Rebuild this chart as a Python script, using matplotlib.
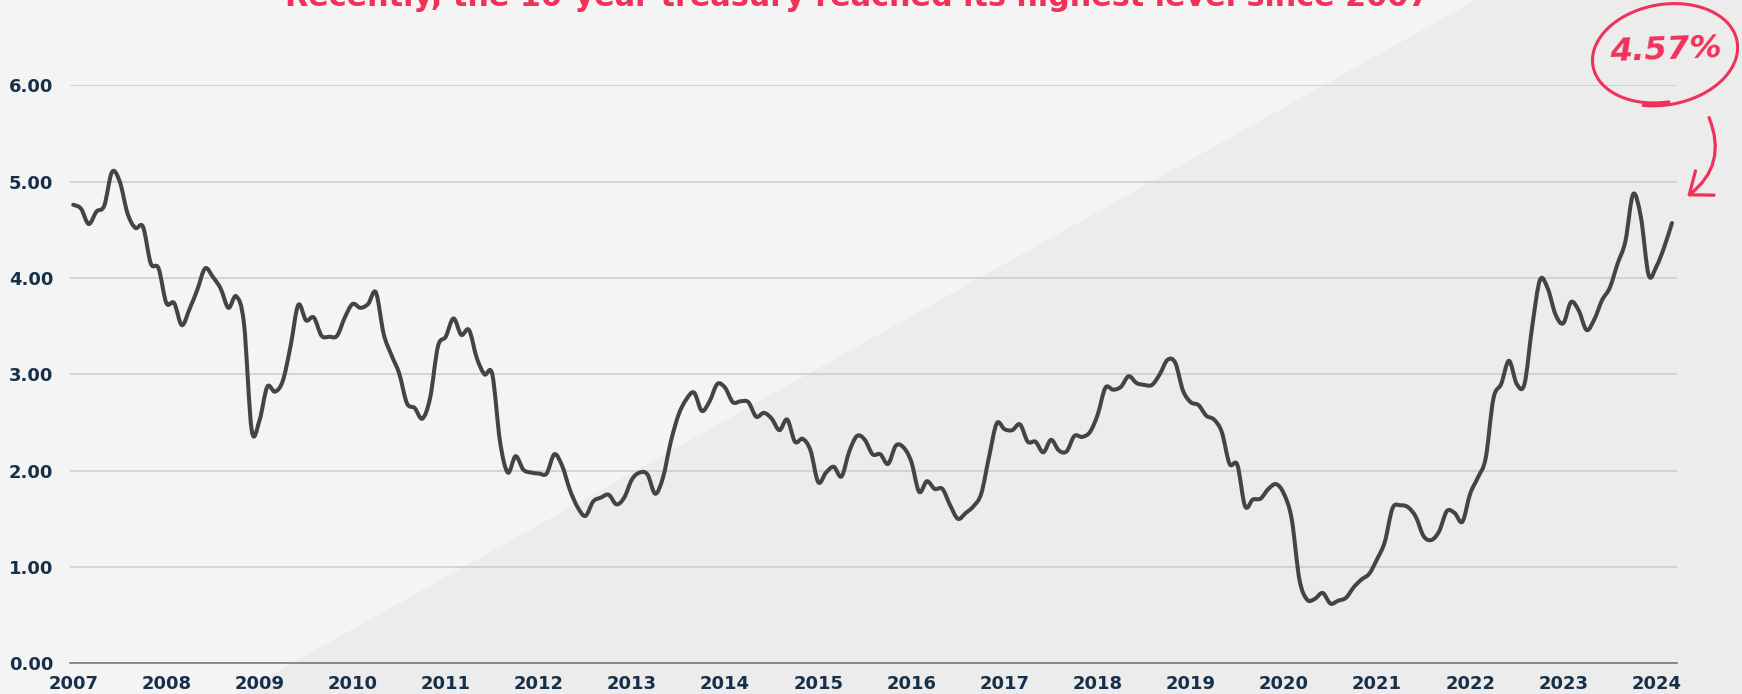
import numpy as np
import matplotlib
matplotlib.use("Agg")
import matplotlib.pyplot as plt
from matplotlib.path import Path
from matplotlib.patches import PathPatch, Polygon, FancyArrowPatch

# ---------------- data (monthly 10-year treasury yield, %) ----------------
y2007 = [4.76, 4.72, 4.56, 4.69, 4.75, 5.10, 5.00, 4.67, 4.52, 4.53, 4.15, 4.10]
y2008 = [3.74, 3.74, 3.51, 3.68, 3.88, 4.10, 4.01, 3.89, 3.69, 3.81, 3.53, 2.42]
y2009 = [2.52, 2.87, 2.82, 2.93, 3.29, 3.72, 3.56, 3.59, 3.40, 3.39, 3.40, 3.59]
y2010 = [3.73, 3.69, 3.73, 3.85, 3.42, 3.20, 3.01, 2.70, 2.65, 2.54, 2.76, 3.29]
y2011 = [3.39, 3.58, 3.41, 3.46, 3.17, 3.00, 3.00, 2.30, 1.98, 2.15, 2.01, 1.98]
y2012 = [1.97, 1.97, 2.17, 2.05, 1.80, 1.62, 1.53, 1.68, 1.72, 1.75, 1.65, 1.72]
y2013 = [1.91, 1.98, 1.96, 1.76, 1.93, 2.30, 2.58, 2.74, 2.81, 2.62, 2.72, 2.90]
y2014 = [2.86, 2.71, 2.72, 2.71, 2.56, 2.60, 2.54, 2.42, 2.53, 2.30, 2.33, 2.21]
y2015 = [1.88, 1.98, 2.04, 1.94, 2.20, 2.36, 2.32, 2.17, 2.17, 2.07, 2.26, 2.24]
y2016 = [2.09, 1.78, 1.89, 1.81, 1.81, 1.64, 1.50, 1.56, 1.63, 1.76, 2.14, 2.49]
y2017 = [2.43, 2.42, 2.48, 2.30, 2.30, 2.19, 2.32, 2.21, 2.20, 2.36, 2.35, 2.40]
y2018 = [2.58, 2.86, 2.84, 2.87, 2.98, 2.91, 2.89, 2.89, 3.00, 3.15, 3.12, 2.83]
y2019 = [2.71, 2.68, 2.57, 2.53, 2.40, 2.07, 2.06, 1.63, 1.70, 1.71, 1.81, 1.86]
y2020 = [1.76, 1.50, 0.87, 0.66, 0.67, 0.73, 0.62, 0.65, 0.68, 0.79, 0.87, 0.93]
y2021 = [1.08, 1.26, 1.61, 1.64, 1.62, 1.52, 1.32, 1.28, 1.37, 1.58, 1.56, 1.47]
y2022 = [1.76, 1.93, 2.13, 2.75, 2.90, 3.14, 2.90, 2.90, 3.50, 3.98, 3.89, 3.62]
y2023 = [3.53, 3.75, 3.66, 3.46, 3.57, 3.77, 3.90, 4.15, 4.38, 4.87, 4.63, 4.03]
y2024 = [4.12, 4.32, 4.57]

year_labels = [str(y) for y in range(2007, 2025)]
y_ticks = [0, 1, 2, 3, 4, 5, 6]
title = "Recently, the 10-year treasury reached its highest level since 2007"
callout = "4.57%"

yields = (y2007 + y2008 + y2009 + y2010 + y2011 + y2012 + y2013 + y2014 + y2015
          + y2016 + y2017 + y2018 + y2019 + y2020 + y2021 + y2022 + y2023 + y2024)
months = np.arange(len(yields), dtype=float)

# ---------------- figure ----------------
W, H = 1742, 694
fig = plt.figure(figsize=(W / 100, H / 100), dpi=100)
fig.patch.set_facecolor('#f4f4f4')

bg = fig.add_axes([0, 0, 1, 1])
bg.set_xlim(0, W); bg.set_ylim(H, 0); bg.axis('off'); bg.set_zorder(0)
bg.add_patch(Polygon([(237, H), (1476, 0), (W, 0), (W, H)], closed=True,
                     facecolor='#ececec', edgecolor='none'))

ax = fig.add_axes([70.1 / W, 30.7 / H, 1606.5 / W, 578 / H])
ax.set_zorder(1)
ax.set_facecolor('none')
ax.set_xlim(-0.4, 206.6)
ax.set_ylim(0, 6)
for s in ax.spines.values():
    s.set_visible(False)

ax.set_yticks(y_ticks)
ax.set_yticklabels([f"{v:.2f}" for v in y_ticks])
ax.set_xticks(np.arange(len(year_labels)) * 12)
ax.set_xticklabels(year_labels)
ax.yaxis.grid(True, color='#c7ccd1', lw=1.1)
ax.set_axisbelow(True)
ax.axhline(0, color='#5f7380', lw=1.1, zorder=1.5, clip_on=False)
ax.tick_params(axis='both', length=0, colors='#16304a', labelsize=13)
ax.tick_params(axis='y', pad=12.1)
ax.tick_params(axis='x', pad=8.5)
for lab in ax.get_xticklabels() + ax.get_yticklabels():
    lab.set_fontweight('bold')
    lab.set_family('DejaVu Sans')

# smooth line through the monthly values (Catmull-Rom as cubic Bezier)
x = months
y = np.array(yields)
xp = np.concatenate([[x[0]], x, [x[-1]]])
yp = np.concatenate([[y[0]], y, [y[-1]]])
verts = [(x[0], y[0])]
codes = [Path.MOVETO]
for i in range(len(x) - 1):
    p0 = np.array([xp[i], yp[i]]); p1 = np.array([xp[i + 1], yp[i + 1]])
    p2 = np.array([xp[i + 2], yp[i + 2]]); p3 = np.array([xp[i + 3], yp[i + 3]])
    c1 = p1 + (p2 - p0) / 6.0
    c2 = p2 - (p3 - p1) / 6.0
    verts += [tuple(c1), tuple(c2), tuple(p2)]
    codes += [Path.CURVE4] * 3
ax.add_patch(PathPatch(Path(verts, codes), facecolor='none', edgecolor='#444446',
                       lw=2.9, capstyle='round', joinstyle='round', zorder=3,
                       clip_on=False))

# ---------------- title (partially outside top edge, as in the original) ----------------
pink = '#f2315b'
t = fig.text(857.5 / W, 1 - 5.5 / H, title, ha='center', va='baseline',
             fontsize=22, color=pink, fontweight='bold', family='DejaVu Sans')
fig.canvas.draw()
r = fig.canvas.get_renderer()
wpx = t.get_window_extent(r).width
t.set_fontsize(22 * 1141 / wpx)

# ---------------- hand-drawn callout ----------------
ov = fig.add_axes([0, 0, 1, 1])
ov.set_xlim(0, W); ov.set_ylim(H, 0); ov.axis('off'); ov.set_zorder(4)
ov.patch.set_alpha(0)

cx, cy, rx, ry, th = 1664, 54, 71, 48, np.deg2rad(-10)
tt = np.linspace(np.pi / 2 + 0.05, np.pi / 2 + 0.05 + 2 * np.pi + 0.35, 300)
grow = 1 + 0.06 * (tt - tt[0]) / (2 * np.pi)
ex = cx + rx * grow * np.cos(tt) * np.cos(th) - ry * grow * np.sin(tt) * np.sin(th)
ey = cy + rx * grow * np.cos(tt) * np.sin(th) + ry * grow * np.sin(tt) * np.cos(th)
ov.plot(ex, ey, color=pink, lw=2.2, solid_capstyle='round')

ct = ov.text(1666, 51, callout, ha='center', va='center', fontsize=30,
             color=pink, fontweight='bold', fontstyle='italic',
             family='DejaVu Sans', rotation=2)
fig.canvas.draw()
wpx = ct.get_window_extent(fig.canvas.get_renderer()).width
ct.set_fontsize(30 * 113 / wpx)

arr = FancyArrowPatch(posA=(1708, 115), posB=(1685, 198),
                      connectionstyle='arc3,rad=-0.4',
                      arrowstyle='->,head_length=0.7,head_width=0.55',
                      mutation_scale=20, lw=2.3, color=pink,
                      capstyle='round', joinstyle='round')
ov.add_patch(arr)

fig.savefig('out.png', dpi=100, facecolor=fig.get_facecolor())
